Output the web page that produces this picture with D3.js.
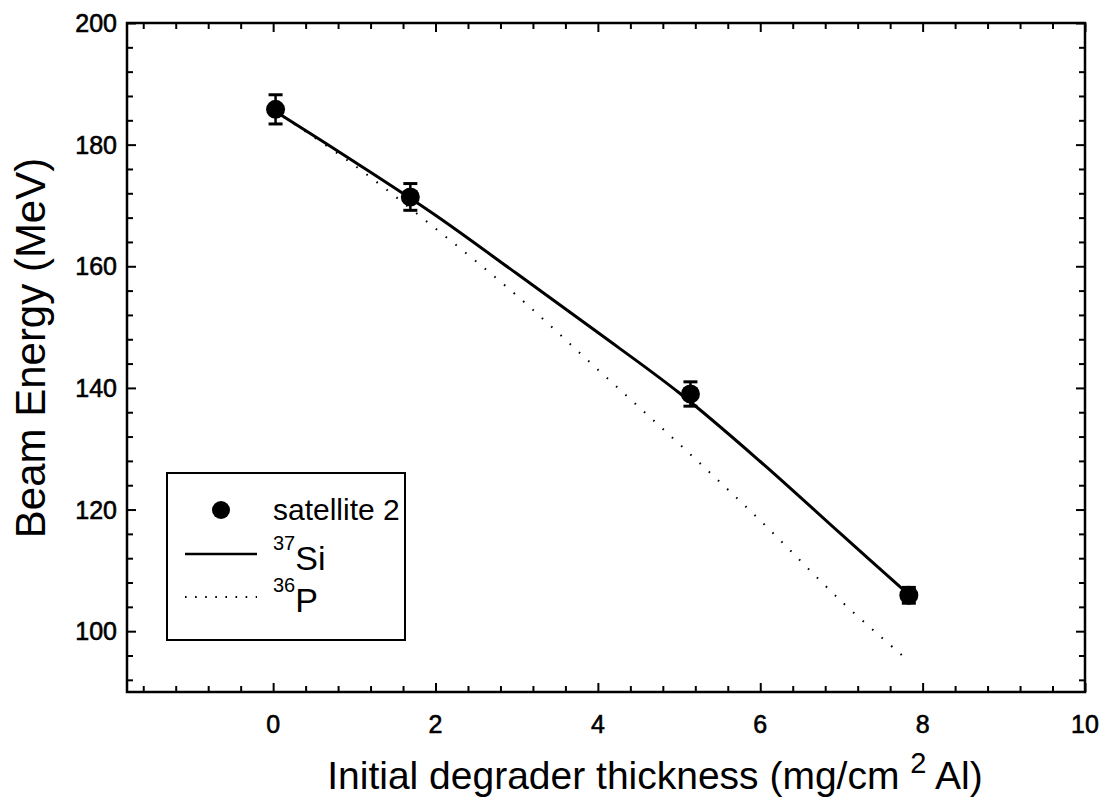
<!DOCTYPE html>
<html>
<head>
<meta charset="utf-8">
<script src="https://cdn.jsdelivr.net/npm/d3@7/dist/d3.min.js"></script>
<style>
  html, body { margin: 0; padding: 0; background: #fff; }
  svg { display: block; }
  text { font-family: "Liberation Sans", Arial, Helvetica, sans-serif; fill: #000; }
</style>
</head>
<body>
<svg id="chart" width="1109" height="811"></svg>
<script>
// ---- data ----
const pointX = [0.03, 1.69, 5.14, 7.83];
const pointY = [185.8, 171.4, 139.0, 105.9];
const pointErr = [2.4, 2.2, 2.0, 1.3];

const siX = [0, 1, 2, 3, 4, 5, 6, 7, 7.83];
const siY = [185.7, 177.2, 168.4, 158.8, 149.1, 139.2, 127.9, 115.9, 106.0];

const pX = [0, 1, 2, 3, 4, 5, 6, 7, 7.75];
const pY = [185.7, 176.6, 166.2, 155.2, 143.0, 130.8, 118.2, 104.9, 96.0];

const xTickValues = [0, 2, 4, 6, 8, 10];
const yTickValues = [100, 120, 140, 160, 180, 200];

const legendLabels = ["satellite 2", "Si", "P"];
const legendSup = ["", "37", "36"];

// ---- layout ----
const svg = d3.select("#chart");
const mLeft = 127, mRight = 1085, mTop = 23, mBottom = 692;

const x = d3.scaleLinear().domain([-1.8, 10]).range([mLeft, mRight]);
const y = d3.scaleLinear().domain([90, 200]).range([mBottom, mTop]);

const xMinor = d3.range(-1.6, 10.01, 0.4).map(v => +v.toFixed(2)).filter(v => xTickValues.indexOf(v) < 0);
const yMinor = d3.range(92, 200, 4).filter(v => yTickValues.indexOf(v) < 0);

const g = svg.append("g");

function axisGroup(axisFn, tickVals, size, transform) {
  const a = axisFn.tickValues(tickVals).tickSize(size).tickFormat("");
  const grp = g.append("g").attr("transform", transform).call(a);
  grp.select(".domain").remove();
  grp.selectAll("line").attr("stroke", "#000").attr("stroke-width", 2);
  return grp;
}
axisGroup(d3.axisTop(x), xTickValues, 9, `translate(0,${mBottom})`);
axisGroup(d3.axisTop(x), xMinor, 6, `translate(0,${mBottom})`);
axisGroup(d3.axisBottom(x), xTickValues, 9, `translate(0,${mTop})`);
axisGroup(d3.axisBottom(x), xMinor, 6, `translate(0,${mTop})`);
axisGroup(d3.axisRight(y), yTickValues, 9, `translate(${mLeft},0)`);
axisGroup(d3.axisRight(y), yMinor, 6, `translate(${mLeft},0)`);
axisGroup(d3.axisLeft(y), yTickValues, 9, `translate(${mRight},0)`);
axisGroup(d3.axisLeft(y), yMinor, 6, `translate(${mRight},0)`);

g.append("rect")
  .attr("x", mLeft).attr("y", mTop)
  .attr("width", mRight - mLeft).attr("height", mBottom - mTop)
  .attr("fill", "none").attr("stroke", "#000").attr("stroke-width", 2.5);

g.selectAll(".xl").data(xTickValues).enter().append("text")
  .attr("x", d => x(d)).attr("y", 733)
  .attr("text-anchor", "middle")
  .style("font-size", "25px")
  .attr("stroke", "#000").attr("stroke-width", 0.6)
  .text(d => d);

g.selectAll(".yl").data(yTickValues).enter().append("text")
  .attr("x", 117).attr("y", d => y(d) + 9)
  .attr("text-anchor", "end")
  .style("font-size", "25px")
  .attr("stroke", "#000").attr("stroke-width", 0.6)
  .text(d => d);

const xt = g.append("text")
  .attr("x", 655).attr("y", 789)
  .attr("text-anchor", "middle")
  .style("font-size", "39px");
xt.append("tspan").text("Initial degrader thickness (mg/cm ");
xt.append("tspan").attr("dy", -16).style("font-size", "29px").text("2");
xt.append("tspan").attr("dy", 16).text(" Al)");

g.append("text")
  .attr("transform", "translate(45,348) rotate(-90)")
  .attr("text-anchor", "middle")
  .style("font-size", "42px")
  .text("Beam Energy (MeV)");

const siData = siX.map((v, i) => [v, siY[i]]);
const pData = pX.map((v, i) => [v, pY[i]]);
const line = d3.line().x(d => x(d[0])).y(d => y(d[1])).curve(d3.curveCatmullRom.alpha(0.5));

g.append("path").datum(pData)
  .attr("d", line)
  .attr("fill", "none").attr("stroke", "#000")
  .attr("stroke-width", 2).attr("stroke-dasharray", "1.6 11")
  .attr("stroke-linecap", "butt");

g.append("path").datum(siData)
  .attr("d", line)
  .attr("fill", "none").attr("stroke", "#000")
  .attr("stroke-width", 3);

const pts = pointX.map((v, i) => ({x: v, y: pointY[i], e: pointErr[i]}));
const eb = g.selectAll(".eb").data(pts).enter().append("g");
eb.append("line")
  .attr("x1", d => x(d.x)).attr("x2", d => x(d.x))
  .attr("y1", d => y(d.y - d.e)).attr("y2", d => y(d.y + d.e))
  .attr("stroke", "#000").attr("stroke-width", 2.5);
[1, -1].forEach(s => {
  eb.append("line")
    .attr("x1", d => x(d.x) - 7).attr("x2", d => x(d.x) + 7)
    .attr("y1", d => y(d.y + s * d.e)).attr("y2", d => y(d.y + s * d.e))
    .attr("stroke", "#000").attr("stroke-width", 3);
});
eb.append("circle")
  .attr("cx", d => x(d.x)).attr("cy", d => y(d.y))
  .attr("r", 9.5).attr("fill", "#000");

const lg = g.append("g");
lg.append("rect")
  .attr("x", 167).attr("y", 473).attr("width", 238).attr("height", 167)
  .attr("fill", "#fff").attr("stroke", "#000").attr("stroke-width", 2);
lg.append("circle").attr("cx", 221).attr("cy", 510).attr("r", 9).attr("fill", "#000");
lg.append("line").attr("x1", 185).attr("x2", 257).attr("y1", 554).attr("y2", 554)
  .attr("stroke", "#000").attr("stroke-width", 2.5);
lg.append("line").attr("x1", 185).attr("x2", 257).attr("y1", 597).attr("y2", 597)
  .attr("stroke", "#000").attr("stroke-width", 2).attr("stroke-dasharray", "1.6 8.5");

lg.append("text").attr("x", 273).attr("y", 520).style("font-size", "30px").text(legendLabels[0]);
const t1 = lg.append("text").attr("x", 273).attr("y", 570);
t1.append("tspan").style("font-size", "20px").attr("dy", -20).text(legendSup[1]);
t1.append("tspan").style("font-size", "34px").attr("dy", 20).text(legendLabels[1]);
const t2 = lg.append("text").attr("x", 273).attr("y", 612);
t2.append("tspan").style("font-size", "20px").attr("dy", -20).text(legendSup[2]);
t2.append("tspan").style("font-size", "34px").attr("dy", 20).text(legendLabels[2]);
</script>
</body>
</html>
